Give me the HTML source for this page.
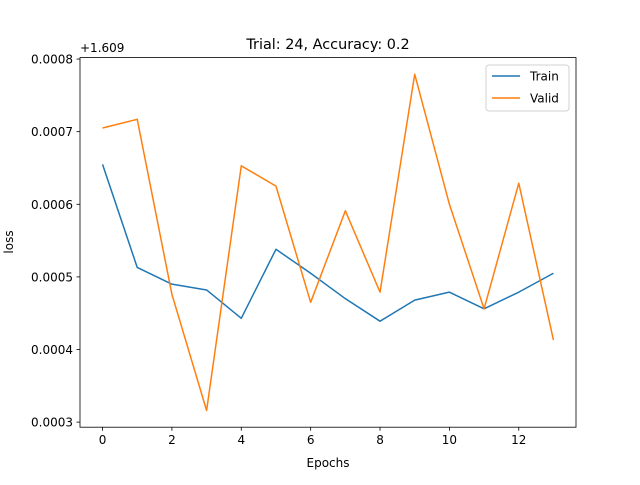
<!DOCTYPE html>
<html><head><meta charset="utf-8"><style>
body{margin:0;background:#fff;}
svg{font-family:"DejaVu Sans","Liberation Sans",sans-serif;}
</style></head><body>
<svg id="c" width="640" height="480"></svg>
<script>
const epochs=[0,1,2,3,4,5,6,7,8,9,10,11,12,13];
const trainLoss=[0.000655,0.000513,0.00049,0.000482,0.000443,0.000538,0.000505,0.00047,0.000439,0.000468,0.000479,0.000456,0.000479,0.000505];
const validLoss=[0.000705,0.000717,0.000476,0.000316,0.000653,0.000625,0.000465,0.000591,0.000479,0.000779,0.0006,0.000456,0.000629,0.000413];
const xTicks=[0,2,4,6,8,10,12];
const yTicks=[0.0003,0.0004,0.0005,0.0006,0.0007,0.0008];
const L=80,R=576,T=57.6,B=427.2;
const xMin=-0.65,xMax=13.65,yMin=0.000293,yMax=0.000802;
const x=v=>L+(v-xMin)/(xMax-xMin)*(R-L);
const y=v=>B-(v-yMin)/(yMax-yMin)*(B-T);
const s=document.getElementById('c');const NS='http://www.w3.org/2000/svg';
function mk(t,a,p){const e=document.createElementNS(NS,t);for(const k in a)e.setAttribute(k,a[k]);(p||s).appendChild(e);return e;}
function txt(str,a){const e=mk('text',Object.assign({'font-size':12,fill:'#000'},a));e.textContent=str;return e;}
for(const v of xTicks){
 const g=mk('line',{x1:x(v),x2:x(v),y1:B,y2:B+3.5,stroke:'#000','stroke-width':0.8});
 
 
 const t=txt(String(v),{x:x(v),y:B+17,'text-anchor':'middle'});
 
 
}
for(const v of yTicks){
 const g=mk('line',{x1:L-3.5,x2:L,y1:y(v),y2:y(v),stroke:'#000','stroke-width':0.8});
 
 
 const t=txt(v.toFixed(4),{x:L-7,y:y(v)+4.5,'text-anchor':'end'});
 
 
}
function line(data,color,name){
 const p=mk('polyline',{points:data.map((v,i)=>x(epochs[i])+','+y(v)).join(' '),fill:'none',stroke:color,'stroke-width':1.5,'stroke-linejoin':'round'});
 
 
}
line(trainLoss,'#1f77b4','train-line');
line(validLoss,'#ff7f0e','valid-line');
const fr=mk('rect',{x:L,y:T,width:R-L,height:B-T,fill:'none',stroke:'#000','stroke-width':0.8});


let t;
t=txt('+1.609',{x:L,y:52});
t=txt('Trial: 24, Accuracy: 0.2',{x:(L+R)/2,y:49,'text-anchor':'middle','font-size':14.4});
t=txt('Epochs',{x:(L+R)/2,y:467,'text-anchor':'middle'});
t=txt('loss',{x:13,y:242,'text-anchor':'middle',transform:'rotate(-90 13 242)'});
const lg=mk('rect',{x:486,y:65,width:83,height:46,rx:3,fill:'#fff',stroke:'#ccc','stroke-width':1,opacity:0.9});


[['Train','#1f77b4',76],['Valid','#ff7f0e',98]].forEach(([n,c,yy])=>{
 const l=mk('line',{x1:492,x2:520,y1:yy,y2:yy,stroke:c,'stroke-width':1.5});
 
 
 const tt=txt(n,{x:530,y:yy+4.5});
 
 
});
</script>
</body></html>
